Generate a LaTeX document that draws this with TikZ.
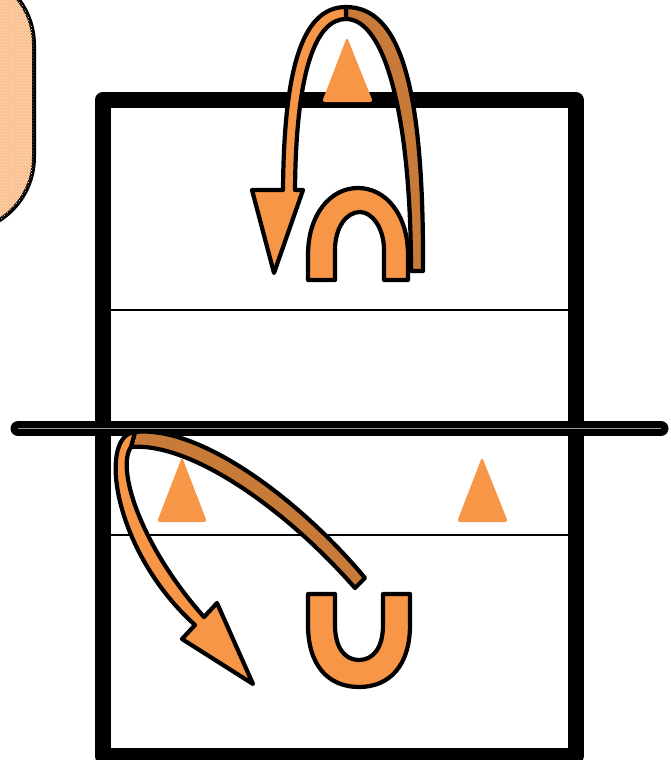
\documentclass[tikz,border=0pt]{standalone}
\usepackage{xcolor}
\usepackage{tikz}
\usetikzlibrary{patterns}

\definecolor{coneorange}{HTML}{F79646}
\definecolor{ribbondark}{HTML}{C87B38}
\definecolor{panelpeach}{HTML}{FAC090}

\begin{document}
\begin{tikzpicture}[
  x=1pt,y=-1pt,
  court/.style  ={draw=black,line width=16pt,line join=round},
  zone/.style   ={draw=black,line width=2pt},
  netline/.style={draw=black,line width=15pt,line cap=round},
  cone/.style   ={fill=coneorange,draw=none,rounded corners=3pt},
  ribbon/.style ={fill=coneorange,draw=black,line width=4.2pt,line join=round},
  backside/.style={fill=ribbondark,draw=black,line width=4.2pt,line join=round},
  hoop/.style   ={fill=coneorange,draw=black,line width=4.2pt,line join=round},
]
\useasboundingbox (0,0) rectangle (671,760);

% ===================== side panel (cut off at the edge) ==================
\begin{scope}
  \clip (0,0) rectangle (671,760);
  \draw[fill=panelpeach,line width=4pt,rounded corners=75pt,
        postaction={pattern=crosshatch dots,pattern color=white!55!panelpeach}]
    (-200,-30) rectangle (34,232);
\end{scope}

% ===================== court ============================================
\draw[court] (102.5,100) rectangle (575.5,756);
\draw[zone] (110,310) -- (568,310);
\draw[zone] (110,535) -- (568,535);

% net
\draw[netline] (18,428.5) -- (661,428.5);
\draw[gray!80,line width=1pt] (18,428.5) -- (661,428.5);

% ===================== cones ============================================
\fill[cone] (322,102) -- (347,37) -- (373,102) -- cycle;
\fill[cone] (157,522) -- (182,457) -- (207,522) -- cycle;
\fill[cone] (457,522) -- (482,457) -- (508,522) -- cycle;

% ===================== top set: arrow over the net ======================
% back side of the ribbon
\draw[backside] (346,7) .. controls (400,7) and (424,85) .. (423,271)
  -- (411,271) .. controls (411,120) and (386,19) .. (346,19) -- cycle;
% front side with the head
\draw[ribbon] (346,7) .. controls (305,7) and (284,60) .. (283,190)
  -- (252,190) -- (274,273) -- (303,190) -- (295,190)
  .. controls (296,70) and (316,19) .. (346,19) -- cycle;

% hoop (open side down)
\draw[hoop] (308,280) -- (308,255) .. controls (308,215) and (330,188) .. (358,188)
  .. controls (386,188) and (408,215) .. (408,255) -- (408,280) -- (384,280)
  -- (384,250) .. controls (384,228) and (372,212) .. (360,212)
  .. controls (346,212) and (335,228) .. (335,250) -- (335,280) -- cycle;

% ===================== bottom set: arrow back to the left ===============
\draw[backside] (365,578) .. controls (300,500) and (200,425) .. (135,432)
  -- (131,447) .. controls (190,442) and (285,508) .. (355,588) -- cycle;
\draw[ribbon] (135,432) .. controls (98,435) and (112,550) .. (195,625)
  -- (182,639) -- (253,684) -- (217,603) -- (204,617)
  .. controls (140,545) and (116,468) .. (131,447) -- cycle;

% hoop (open side up)
\draw[hoop] (308,594) -- (335,594) -- (335,625) .. controls (335,648) and (345,660) .. (359,660)
  .. controls (373,660) and (383,648) .. (383,625) -- (383,594) -- (410,594)
  -- (410,625) .. controls (410,665) and (390,687) .. (359,687)
  .. controls (328,687) and (308,665) .. (308,625) -- cycle;

\end{tikzpicture}
\end{document}
